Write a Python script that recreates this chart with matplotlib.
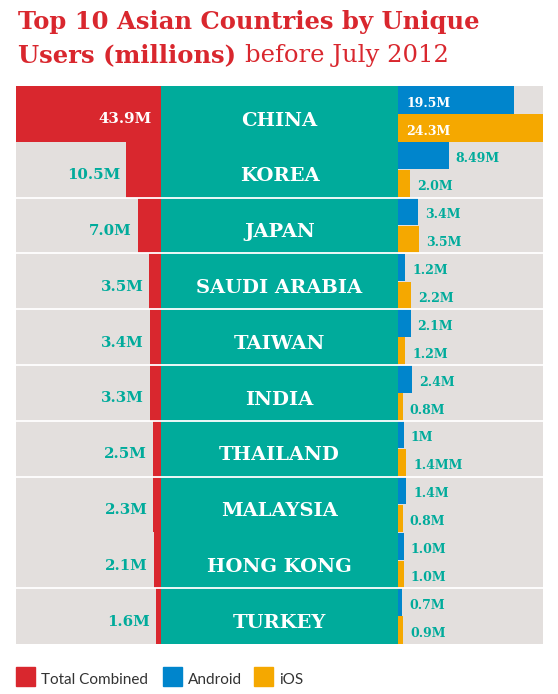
import matplotlib.pyplot as plt
from matplotlib.patches import Rectangle

countries = ['CHINA', 'KOREA', 'JAPAN', 'SAUDI ARABIA', 'TAIWAN',
             'INDIA', 'THAILAND', 'MALAYSIA', 'HONG KONG', 'TURKEY']
total = [43.9, 10.5, 7.0, 3.5, 3.4, 3.3, 2.5, 2.3, 2.1, 1.6]
total_labels = ['43.9M', '10.5M', '7.0M', '3.5M', '3.4M',
                '3.3M', '2.5M', '2.3M', '2.1M', '1.6M']
android = [19.5, 8.49, 3.4, 1.2, 2.1, 2.4, 1.0, 1.4, 1.0, 0.7]
android_labels = ['19.5M', '8.49M', '3.4M', '1.2M', '2.1M',
                  '2.4M', '1M', '1.4M', '1.0M', '0.7M']
ios = [24.3, 2.0, 3.5, 2.2, 1.2, 0.8, 1.4, 0.8, 1.0, 0.9]
ios_labels = ['24.3M', '2.0M', '3.5M', '2.2M', '1.2M',
              '0.8M', '1.4MM', '0.8M', '1.0M', '0.9M']
legend_names = ['Total Combined', 'Android', 'iOS']

RED = '#d9272e'
TEAL = '#00ab9b'
GRAY = '#e3dfdd'
BLUE = '#0085cc'
ORANGE = '#f5a800'
SLAB = 'DejaVu Serif'

W, H = 558, 694
fig = plt.figure(figsize=(W / 100, H / 100), dpi=100)


def px_axes(x0, x1, y0, y1):
    ax = fig.add_axes([x0 / W, 1 - y1 / H, (x1 - x0) / W, (y1 - y0) / H])
    ax.set_xticks([])
    ax.set_yticks([])
    for s in ax.spines.values():
        s.set_visible(False)
    return ax


top, bottom = 86, 644
ax_l = px_axes(16, 161, top, bottom)
ax_c = px_axes(161, 398, top, bottom)
ax_r = px_axes(398, 543, top, bottom)

n = len(countries)
rows = list(range(n))
for ax in (ax_l, ax_c, ax_r):
    ax.set_ylim(n - 0.5, -0.5)
ax_l.set_facecolor(GRAY)
ax_r.set_facecolor(GRAY)
ax_c.set_facecolor(TEAL)

# left: total combined, growing towards the left
ax_l.barh(rows, total, height=1.0, color=RED)
ax_l.set_xlim(max(total), 0)
for i, (v, lab) in enumerate(zip(total, total_labels)):
    if v == max(total):
        ax_l.annotate(lab, (0, i + 0.17), xytext=(-9, 0), textcoords='offset pixels',
                      ha='right', va='baseline', color='white', fontsize=10.8,
                      fontweight='bold', family=SLAB)
    else:
        ax_l.annotate(lab, (v, i + 0.17), xytext=(-6, 0), textcoords='offset pixels',
                      ha='right', va='baseline', color=TEAL, fontsize=10.8,
                      fontweight='bold', family=SLAB)

# middle: country names
ax_c.set_xlim(0, 1)
for i, name in enumerate(countries):
    ax_c.text(0.5, i + 0.21, name, ha='center', va='baseline', color='white',
              fontsize=14, fontweight='bold', family=SLAB)

# right: android on top half, ios on bottom half
ax_r.barh([r - 0.25 for r in rows], android, height=0.49, color=BLUE)
ax_r.barh([r + 0.25 for r in rows], ios, height=0.49, color=ORANGE)
ax_r.set_xlim(0, max(ios))
for vals, labs, dy in ((android, android_labels, -0.25), (ios, ios_labels, 0.25)):
    for i, (v, lab) in enumerate(zip(vals, labs)):
        if i == 0:
            x, off, col = 0, 8, 'white'
        else:
            x, off, col = v, 7, TEAL
        ax_r.annotate(lab, (x, i + dy + 0.12), xytext=(off, 0), textcoords='offset pixels',
                      ha='left', va='baseline', color=col, fontsize=9,
                      fontweight='bold', family=SLAB)

# row separators (none after china and malaysia)
for b in [1.5, 2.5, 3.5, 4.5, 5.5, 6.5, 8.5]:
    for ax in (ax_l, ax_c, ax_r):
        ax.axhline(b, color='white', lw=1.3)

# title
fig.text(18 / W, 1 - 29 / H, 'Top 10 Asian Countries by Unique', color=RED,
         fontsize=17.5, fontweight='bold', family=SLAB, va='baseline')
t2 = fig.text(18 / W, 1 - 62 / H, 'Users (millions)', color=RED,
              fontsize=17.5, fontweight='bold', family=SLAB, va='baseline')
fig.canvas.draw()
bb = t2.get_window_extent()
fig.text(bb.x1 / W + 9 / W, 1 - 62 / H, 'before July 2012', color=RED,
         fontsize=17.5, family=SLAB, va='baseline')

# legend
leg_x = [16, 163, 254]
for x, name, col in zip(leg_x, legend_names, [RED, BLUE, ORANGE]):
    fig.add_artist(Rectangle((x / W, 1 - 686 / H), 19 / W, 19 / H,
                             transform=fig.transFigure, color=col))
    fig.text((x + 25) / W, 1 - 684 / H, name, color='#333333', fontsize=11,
             family='Lato', va='baseline')

fig.savefig('out.png', dpi=100)
